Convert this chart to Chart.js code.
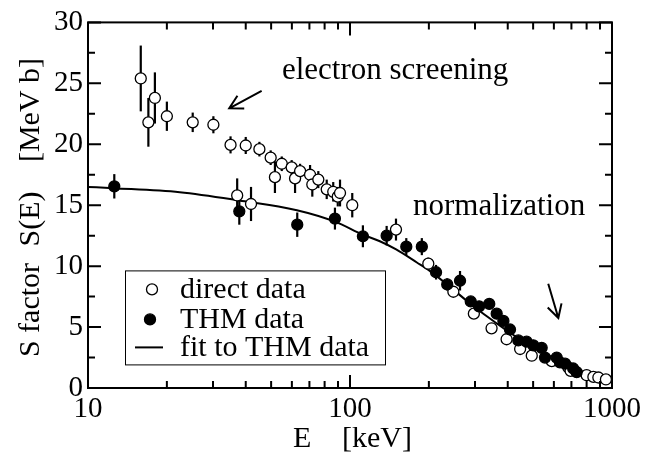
<!DOCTYPE html>
<html><head><meta charset="utf-8">
<script src="https://cdn.jsdelivr.net/npm/chart.js@4.4.1/dist/chart.umd.min.js"></script>
<style>html,body{margin:0;padding:0;background:#fff;}</style>
</head><body>
<canvas id="c" width="663" height="454"></canvas>
<script>
// ---- data ----
const directE   = [15.9, 17.0, 18.0, 20.0, 25.1, 30.1, 35.0, 37.1, 40.0, 41.9, 45.1, 49.8, 51.7, 54.9, 59.9, 61.7, 64.5, 70.4, 71.8, 75.7, 81.5, 86.3, 89.8, 91.6, 102, 149.8, 199, 248, 297, 347, 396, 446, 494, 589, 681, 695, 800, 849, 887, 948];
const directS   = [25.4, 21.8, 23.8, 22.3, 21.8, 21.6, 19.95, 15.8, 19.9, 15.1, 19.6, 18.9, 17.3, 18.4, 18.1, 17.2, 17.8, 17.5, 16.7, 17.1, 16.3, 16.1, 15.7, 16.0, 15.0, 13.0, 10.2, 7.9, 6.1, 4.9, 4.0, 3.2, 2.65, 2.2, 1.7, 1.4, 1.05, 0.91, 0.86, 0.7];
const directErr = [2.7, 2.0, 2.1, 1.2, 0.8, 0.7, 0.7, 1.4, 0.7, 1.4, 0.6, 0.6, 1.3, 0.6, 0.6, 1.2, 0.6, 0.8, 1.0, 0.7, 0.8, 0.8, 0.8, 1.1, 1.0, 0.9, 0.5, 0.4, 0.3, 0.3, 0.3, 0.2, 0.2, 0.2, 0.15, 0, 0, 0, 0, 0];
const thmE   = [12.6, 37.8, 62.9, 87.6, 112, 138, 164, 188, 213, 235, 263, 289, 311, 340, 363, 385, 408, 439, 472, 501, 539, 555, 615, 633, 662, 711, 733];
const thmS   = [16.55, 14.5, 13.4, 13.9, 12.45, 12.5, 11.6, 11.6, 9.5, 8.5, 8.8, 7.1, 6.7, 6.9, 6.1, 5.5, 4.8, 3.9, 3.8, 3.5, 3.3, 2.5, 2.5, 2.1, 2.0, 1.6, 1.3];
const thmErr = [1.0, 1.1, 1.0, 0.9, 0.9, 0.8, 0.7, 0.7, 0.6, 0.5, 0.8, 0.4, 0.4, 0.4, 0.4, 0.3, 0.3, 0.3, 0.3, 0.3, 0.3, 0.2, 0.2, 0.2, 0.2, 0.2, 0.2];
const fitE = [10, 12.5, 22.4, 37.8, 62.7, 87.6, 112, 130, 150, 180, 201, 241, 287, 340, 408, 489, 580, 688, 823, 900];
const fitS = [16.5, 16.4, 16.07, 15.39, 14.59, 13.65, 12.58, 12.04, 11.37, 10.3, 9.63, 8.29, 6.94, 5.74, 4.53, 3.46, 2.52, 1.71, 1.18, 0.95];
const xTickValues = [10, 100, 1000];
const xMinorValues = [20,30,40,50,60,70,80,90,200,300,400,500,600,700,800,900];
const yTickValues = [0, 5, 10, 15, 20, 25, 30];
const yMinorValues = [2.5, 7.5, 12.5, 17.5, 22.5, 27.5];
const legendLabels = ['direct data', 'THM data', 'fit to THM data'];
const xTitleParts = ['E', '[keV]'];
const yTitleParts = ['S factor', 'S(E)', '[MeV b]'];
const noteTexts = ['electron screening', 'normalization'];
const noteAnchors = [[55, 25.34], [174, 14.16]];          // text left / baseline, in data units
const arrowLines = [[[46, 24.38], [34.6, 22.95]], [[571, 8.55], [624, 5.74]]]; // tail -> head, data units

const FONT = '"Liberation Serif", "Times New Roman", serif';
const toPts = (E, S) => E.map((e, i) => ({x: e, y: S[i]}));

const deco = {
  id: 'deco',
  beforeDatasetsDraw(chart) {
    const {ctx, scales: {x, y}} = chart;
    ctx.save();
    ctx.strokeStyle = '#000'; ctx.lineWidth = 2.2;
    const bars = (E, S, Er) => {
      for (let i = 0; i < E.length; i++) {
        if (!Er[i]) continue;
        const px = x.getPixelForValue(E[i]);
        ctx.beginPath();
        ctx.moveTo(px, y.getPixelForValue(S[i] - Er[i]));
        ctx.lineTo(px, y.getPixelForValue(S[i] + Er[i]));
        ctx.stroke();
      }
    };
    bars(directE, directS, directErr);
    bars(thmE, thmS, thmErr);
    ctx.restore();
  },
  afterDraw(chart) {
    const {ctx, chartArea: a, scales: {x, y}} = chart;
    ctx.save();
    ctx.strokeStyle = '#000'; ctx.fillStyle = '#000';
    // frame
    ctx.lineWidth = 2;
    ctx.strokeRect(a.left, a.top, a.right - a.left, a.bottom - a.top);
    // ticks (inward on all sides)
    const MAJ = 13, MIN = 7;
    const vt = (px, len) => { ctx.beginPath(); ctx.moveTo(px, a.bottom); ctx.lineTo(px, a.bottom - len); ctx.moveTo(px, a.top); ctx.lineTo(px, a.top + len); ctx.stroke(); };
    const ht = (py, len) => { ctx.beginPath(); ctx.moveTo(a.left, py); ctx.lineTo(a.left + len, py); ctx.moveTo(a.right, py); ctx.lineTo(a.right - len, py); ctx.stroke(); };
    xTickValues.forEach(v => vt(x.getPixelForValue(v), MAJ));
    xMinorValues.forEach(v => vt(x.getPixelForValue(v), MIN));
    yTickValues.forEach(v => ht(y.getPixelForValue(v), MAJ));
    yMinorValues.forEach(v => ht(y.getPixelForValue(v), MIN));

    // axis titles
    ctx.font = '30px ' + FONT;
    ctx.textBaseline = 'alphabetic'; ctx.textAlign = 'left';
    ctx.fillText(xTitleParts[0], 293, 447);
    ctx.fillText(xTitleParts[1], 342, 447);
    ctx.save();
    ctx.translate(39, 0);
    ctx.rotate(-Math.PI / 2);
    ctx.textAlign = 'center';
    ctx.fillText(yTitleParts[0], -310, 0);
    ctx.fillText(yTitleParts[1], -219, 0);
    ctx.fillText(yTitleParts[2], -110, 0);
    ctx.restore();

    // annotations
    ctx.font = '31px ' + FONT;
    ctx.textAlign = 'left';
    noteTexts.forEach((t, i) => {
      ctx.fillText(t, x.getPixelForValue(noteAnchors[i][0]), y.getPixelForValue(noteAnchors[i][1]));
    });
    ctx.lineWidth = 2;
    arrowLines.forEach(([tail, head]) => {
      const x0 = x.getPixelForValue(tail[0]), y0 = y.getPixelForValue(tail[1]);
      const x1 = x.getPixelForValue(head[0]), y1 = y.getPixelForValue(head[1]);
      const ang = Math.atan2(y1 - y0, x1 - x0), L = 15, w = 0.5;
      ctx.beginPath();
      ctx.moveTo(x0, y0); ctx.lineTo(x1, y1);
      ctx.moveTo(x1 - L * Math.cos(ang - w), y1 - L * Math.sin(ang - w));
      ctx.lineTo(x1, y1);
      ctx.lineTo(x1 - L * Math.cos(ang + w), y1 - L * Math.sin(ang + w));
      ctx.stroke();
    });

    // legend box
    const lx = a.left + 37, ly = a.top + 248, lw = 260, lh = 94;
    ctx.lineWidth = 1;
    ctx.fillStyle = '#fff';
    ctx.fillRect(lx, ly, lw, lh);
    ctx.strokeRect(lx + 0.5, ly + 0.5, lw, lh);
    ctx.fillStyle = '#000';
    const rowY = [ly + 19, ly + 49, ly + 77];
    ctx.lineWidth = 1.3;
    ctx.beginPath(); ctx.arc(lx + 27, rowY[0], 5.5, 0, Math.PI * 2); ctx.fillStyle = '#fff'; ctx.fill(); ctx.stroke();
    ctx.beginPath(); ctx.arc(lx + 25, rowY[1], 5.5, 0, Math.PI * 2); ctx.fillStyle = '#000'; ctx.fill(); ctx.stroke();
    ctx.lineWidth = 2;
    ctx.beginPath(); ctx.moveTo(lx + 10, rowY[2]); ctx.lineTo(lx + 38, rowY[2]); ctx.stroke();
    ctx.font = '30px ' + FONT;
    ctx.textBaseline = 'alphabetic';
    legendLabels.forEach((t, i) => ctx.fillText(t, lx + 55, rowY[i] + 9));
    ctx.restore();
  }
};

new Chart(document.getElementById('c'), {
  type: 'scatter',
  data: {
    datasets: [
      {label: legendLabels[2], data: toPts(fitE, fitS), showLine: true, pointRadius: 0,
       borderColor: '#000', borderWidth: 2, fill: false, cubicInterpolationMode: 'monotone', order: 3},
      {label: legendLabels[0], data: toPts(directE, directS), pointRadius: 5.5, pointBorderWidth: 1.3,
       borderColor: '#000', backgroundColor: '#fff', pointBackgroundColor: '#fff', pointBorderColor: '#000', order: 2},
      {label: legendLabels[1], data: toPts(thmE, thmS), pointRadius: 5.5, pointBorderWidth: 1.3,
       borderColor: '#000', backgroundColor: '#000', pointBackgroundColor: '#000', pointBorderColor: '#000', order: 1}
    ]
  },
  options: {
    responsive: false, animation: false, devicePixelRatio: 1, events: [],
    layout: {padding: {top: 15, right: 51, left: 0, bottom: 0}},
    plugins: {legend: {display: false}, tooltip: {enabled: false}},
    scales: {
      x: {
        type: 'logarithmic', min: 10, max: 1000,
        grid: {display: false, drawTicks: false}, border: {display: false},
        afterBuildTicks: s => { s.ticks = xTickValues.map(v => ({value: v})); },
        afterFit: s => { s.height = 454 - 388; },
        ticks: {color: '#000', font: {family: FONT, size: 29}, padding: 4, maxRotation: 0, autoSkip: false,
                callback: v => String(v)}
      },
      y: {
        min: 0, max: 30,
        grid: {display: false, drawTicks: false}, border: {display: false},
        afterBuildTicks: s => { s.ticks = yTickValues.map(v => ({value: v})); },
        afterFit: s => { s.width = 88; },
        ticks: {color: '#000', font: {family: FONT, size: 29}, padding: 5, callback: v => String(v)}
      }
    }
  },
  plugins: [deco]
});
</script>
</body></html>
